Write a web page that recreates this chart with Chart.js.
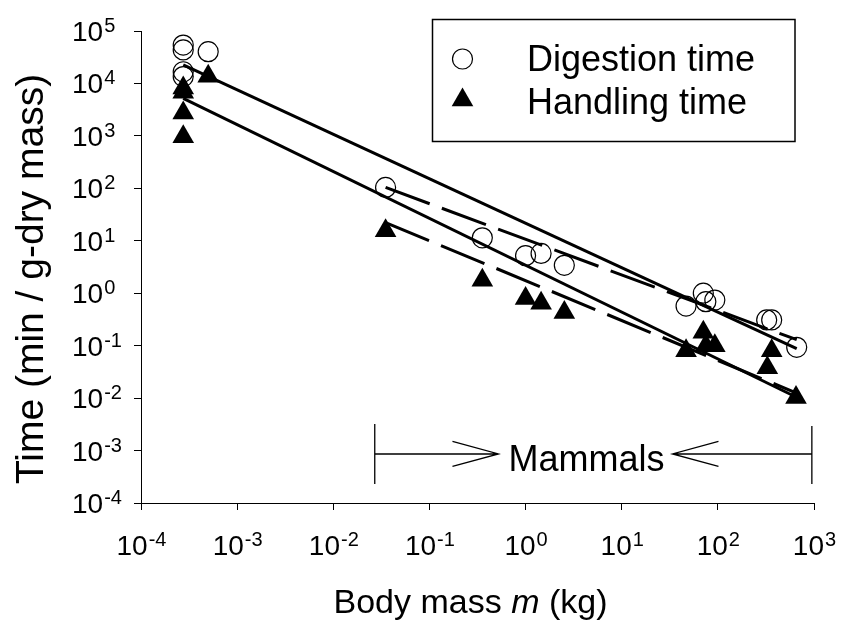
<!DOCTYPE html>
<html><head><meta charset="utf-8">
<script src="https://cdn.jsdelivr.net/npm/chart.js@4"></script>
<style>html,body{margin:0;padding:0;background:#fff;}canvas{display:block;}</style>
</head><body>
<canvas id="c" width="842" height="626"></canvas>
<script>
// ---- data ----
const massDigestion = [2.75e-4, 2.75e-4, 2.75e-4, 2.75e-4, 5.0e-4, 0.035, 0.355, 1.0, 1.45, 2.53, 46.7, 70.6, 75, 93, 322, 363, 661];
const timeDigestion = [54000, 43500, 16700, 13500, 40300, 104, 11.4, 5.2, 5.75, 3.4, 0.57, 1.0, 0.69, 0.74, 0.31, 0.31, 0.093];
const massHandling = [2.75e-4, 2.75e-4, 2.75e-4, 2.75e-4, 5.0e-4, 0.035, 0.355, 1.0, 1.45, 2.53, 46.7, 70.6, 75, 93, 363, 327, 650];
const timeHandling = [8200, 6800, 2730, 960, 13700, 15.5, 1.77, 0.79, 0.645, 0.43, 0.08, 0.18, 0.1, 0.1, 0.08, 0.038, 0.0103];

const fitDigestionAllX = [2.75e-4, 661];
const fitDigestionAllY = [22500, 0.088];
const fitHandlingAllX = [2.75e-4, 650];
const fitHandlingAllY = [5200, 0.0105];
const fitDigestionMammalsX = [0.035, 661];
const fitDigestionMammalsY = [104, 0.13];
const fitHandlingMammalsX = [0.035, 650];
const fitHandlingMammalsY = [22.3, 0.0126];

const xTickExponents = [-4, -3, -2, -1, 0, 1, 2, 3];
const yTickExponents = [-4, -3, -2, -1, 0, 1, 2, 3, 4, 5];
const xTitleParts = ['Body mass ', 'm', ' (kg)'];
const yTitle = 'Time (min / g-dry mass)';
const legendLabels = ['Digestion time', 'Handling time'];
const mammalsLabel = 'Mammals';
const mammalsRange = [0.027, 950];
const mammalsLevel = 8.6e-4;
const mammalsLabelX = 4.3;

// ---- helpers ----
const FONT = '"Liberation Sans", Arial, Helvetica, sans-serif';
const pts = (xs, ys) => xs.map((x, i) => ({x: x, y: ys[i]}));

function drawPow(ctx, exp, x, y, align) {
  const base = '10', e = String(exp);
  ctx.font = '28px ' + FONT;
  const wb = ctx.measureText(base).width;
  ctx.font = '20px ' + FONT;
  const we = ctx.measureText(e).width;
  const x0 = align === 'center' ? x - (wb + we) / 2 : x;
  ctx.font = '28px ' + FONT;
  ctx.fillText(base, x0, y);
  ctx.font = '20px ' + FONT;
  ctx.fillText(e, x0 + wb + 1, y - 9);
}

function triPath(ctx, x, y, r) {
  ctx.beginPath();
  ctx.moveTo(x, y - r);
  ctx.lineTo(x + 0.866 * r, y + 0.5 * r);
  ctx.lineTo(x - 0.866 * r, y + 0.5 * r);
  ctx.closePath();
}

const decorPlugin = {
  id: 'decor',
  afterDraw(chart) {
    const ctx = chart.ctx;
    const xs = chart.scales.x, ys = chart.scales.y;
    ctx.save();
    ctx.fillStyle = '#000';
    ctx.strokeStyle = '#000';
    ctx.textBaseline = 'alphabetic';
    ctx.textAlign = 'left';
    // tick labels
    xTickExponents.forEach(e => drawPow(ctx, e, xs.getPixelForValue(Math.pow(10, e)), 555, 'center'));
    yTickExponents.forEach(e => drawPow(ctx, e, 72, ys.getPixelForValue(Math.pow(10, e)) + 10, 'left'));

    // x title with italic m
    const fX = '34px ' + FONT, fXI = 'italic 34px ' + FONT;
    ctx.font = fX; const w0 = ctx.measureText(xTitleParts[0]).width;
    ctx.font = fXI; const w1 = ctx.measureText(xTitleParts[1]).width;
    ctx.font = fX; const w2 = ctx.measureText(xTitleParts[2]).width;
    const cx = (chart.chartArea.left + chart.chartArea.right) / 2 - 7;
    let tx = cx - (w0 + w1 + w2) / 2;
    const ty = 613;
    ctx.font = fX; ctx.fillText(xTitleParts[0], tx, ty); tx += w0;
    ctx.font = fXI; ctx.fillText(xTitleParts[1], tx, ty); tx += w1;
    ctx.font = fX; ctx.fillText(xTitleParts[2], tx, ty);

    // y title
    ctx.save();
    ctx.translate(43, 279);
    ctx.rotate(-Math.PI / 2);
    ctx.textAlign = 'center';
    ctx.font = '39px ' + FONT;
    ctx.fillText(yTitle, 0, 0);
    ctx.restore();

    // legend
    const fN = '36px ' + FONT;
    ctx.lineWidth = 1.5;
    ctx.strokeRect(432.5, 19.5, 362.5, 122);
    ctx.lineWidth = 1.2;
    ctx.beginPath(); ctx.arc(462.5, 59, 10, 0, Math.PI * 2); ctx.stroke();
    triPath(ctx, 462.5, 100, 12.5); ctx.fill();
    ctx.font = fN;
    ctx.fillText(legendLabels[0], 527, 71);
    ctx.fillText(legendLabels[1], 527, 114);

    // Mammals range annotation
    const my = ys.getPixelForValue(mammalsLevel);
    const mxL = xs.getPixelForValue(mammalsRange[0]);
    const mxR = xs.getPixelForValue(mammalsRange[1]);
    const mcx = xs.getPixelForValue(mammalsLabelX);
    ctx.font = fN;
    const mw = ctx.measureText(mammalsLabel).width;
    ctx.textAlign = 'center';
    ctx.fillText(mammalsLabel, mcx, my + 17);
    const tipL = mcx - mw / 2 - 10, tipR = mcx + mw / 2 + 8;
    ctx.lineWidth = 1.3;
    ctx.beginPath();
    ctx.moveTo(mxL, my - 30); ctx.lineTo(mxL, my + 30);
    ctx.moveTo(mxL, my); ctx.lineTo(tipL, my);
    ctx.moveTo(tipL - 46, my - 12.5); ctx.lineTo(tipL, my); ctx.lineTo(tipL - 46, my + 12.5);
    ctx.moveTo(mxR, my - 28); ctx.lineTo(mxR, my + 30);
    ctx.moveTo(mxR, my); ctx.lineTo(tipR, my);
    ctx.moveTo(tipR + 46, my - 12.5); ctx.lineTo(tipR, my); ctx.lineTo(tipR + 46, my + 12.5);
    ctx.stroke();
    ctx.restore();
  }
};

const decades = (lo, hi) => { const a = []; for (let e = lo; e <= hi; e++) a.push({value: Math.pow(10, e)}); return a; };

new Chart(document.getElementById('c'), {
  type: 'scatter',
  data: {
    datasets: [
      { label: legendLabels[0], data: pts(massDigestion, timeDigestion), pointStyle: 'circle', pointRadius: 10,
        pointBorderWidth: 1.2, borderColor: '#000', backgroundColor: 'rgba(0,0,0,0)', showLine: false },
      { label: legendLabels[1], data: pts(massHandling, timeHandling), pointStyle: 'triangle', pointRadius: 12.5,
        pointBorderWidth: 0, borderColor: '#000', backgroundColor: '#000', showLine: false },
      { data: pts(fitDigestionAllX, fitDigestionAllY), showLine: true, pointRadius: 0, borderColor: '#000', borderWidth: 3 },
      { data: pts(fitHandlingAllX, fitHandlingAllY), showLine: true, pointRadius: 0, borderColor: '#000', borderWidth: 3 },
      { data: pts(fitDigestionMammalsX, fitDigestionMammalsY), showLine: true, pointRadius: 0, borderColor: '#000', borderWidth: 3, borderDash: [47, 13] },
      { data: pts(fitHandlingMammalsX, fitHandlingMammalsY), showLine: true, pointRadius: 0, borderColor: '#000', borderWidth: 3, borderDash: [47, 13] }
    ]
  },
  options: {
    responsive: false,
    animation: false,
    devicePixelRatio: 1,
    layout: { padding: { left: 134, top: 31, right: 28, bottom: 116 } },
    plugins: { legend: { display: false }, tooltip: { enabled: false } },
    scales: {
      x: {
        type: 'logarithmic', min: 1e-4, max: 1e3,
        afterBuildTicks: s => { s.ticks = decades(-4, 3); },
        ticks: { display: false },
        grid: { display: true, drawOnChartArea: false, drawTicks: true, tickLength: 7, color: '#000', lineWidth: 1 },
        border: { display: true, color: '#000', width: 1 }
      },
      y: {
        type: 'logarithmic', min: 1e-4, max: 1e5,
        afterBuildTicks: s => { s.ticks = decades(-4, 5); },
        ticks: { display: false },
        grid: { display: true, drawOnChartArea: false, drawTicks: true, tickLength: 7, color: '#000', lineWidth: 1 },
        border: { display: true, color: '#000', width: 1 }
      }
    }
  },
  plugins: [decorPlugin]
});
</script>
</body></html>
